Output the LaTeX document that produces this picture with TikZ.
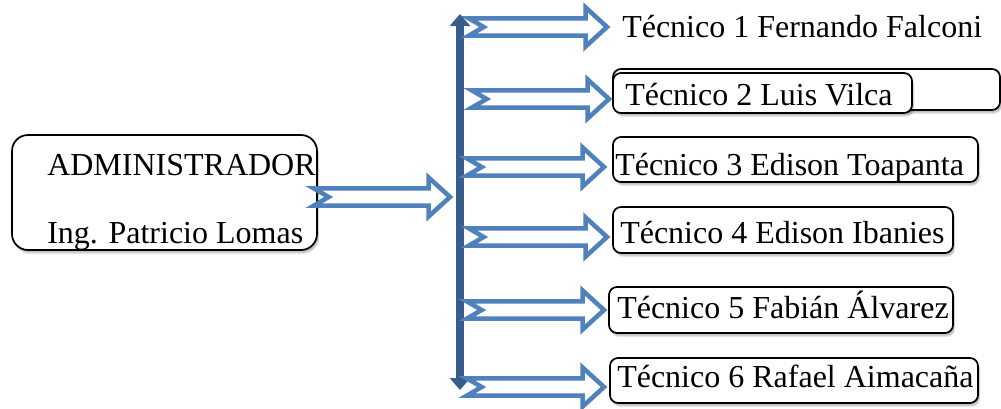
\documentclass[tikz,border=0pt]{standalone}
\usepackage{fontspec}
\setmainfont{Liberation Serif}
\usetikzlibrary{arrows.meta,shadows,calc}
\definecolor{arrowblue}{HTML}{4F81BD}
\definecolor{barblue}{HTML}{385D8A}

\tikzset{
  softshadow/.style={
    general shadow={shadow xshift=1.5pt, shadow yshift=-3pt, opacity=0.10, fill=black},
    general shadow={shadow xshift=1.2pt, shadow yshift=-2pt, opacity=0.15, fill=black}},
  boxbase/.style={draw=black, line width=1.3pt, fill=white, inner sep=0pt, softshadow},
  techbox/.style={boxbase, rounded corners=6pt},
  adminbox/.style={boxbase, rounded corners=12pt},
  techtext/.style={anchor=base west, inner sep=0pt, font=\fontsize{24}{28}\selectfont},
  blockarr/.style={draw=arrowblue, fill=white, line width=3.4pt, line join=miter, miter limit=10},
  mainbar/.style={draw=barblue, line width=6.5pt,
    {Triangle[width=15pt,length=9pt]}-{Triangle[width=15pt,length=9pt]}}
}

% notched block arrow from a tail coordinate to a tip coordinate (horizontal)
\newcommand{\notcharrow}[2]{%
  \path[blockarr] let \p1=(#1), \p2=(#2) in
    (\x1,\y1+6.4pt) -- (\x2-16pt,\y1+6.4pt) -- (\x2-16pt,\y1+14.6pt) -- (\x2,\y1)
    -- (\x2-16pt,\y1-14.6pt) -- (\x2-16pt,\y1-6.4pt) -- (\x1,\y1-6.4pt)
    -- (\x1+11pt,\y1) -- cycle;}

\begin{document}
\begin{tikzpicture}[x=0.75pt,y=-0.75pt]
\useasboundingbox (0,0) rectangle (1001,408);

% administrator box
\node[adminbox, minimum width=228.75pt, minimum height=86.25pt] (adm) at (164.5,192.5) {};
\node[techtext] (admA) at (47,175) {ADMINISTRADOR};
\node[techtext] (admB) at (47,243) {Ing. Patricio Lomas};

% technician boxes
\node[techbox, minimum width=290.25pt, minimum height=30.75pt] (b2a) at (806.5,89.5) {};
\node[techbox, minimum width=224.25pt, minimum height=30pt] (b2b) at (762.5,93) {};
\node[techbox, minimum width=273.75pt, minimum height=33.75pt] (b3) at (795.5,159.5) {};
\node[techbox, minimum width=255pt, minimum height=34.5pt] (b4) at (783,230) {};
\node[techbox, minimum width=258pt, minimum height=34.5pt] (b5) at (781,310) {};
\node[techbox, minimum width=276pt, minimum height=33.75pt] (b6) at (794,380.5) {};

% technician names
\node[techtext] (t1) at (622,37) {Técnico 1 Fernando Falconi};
\node[techtext] (t2) at (625,105) {Técnico 2 Luis Vilca};
\node[techtext] (t3) at (615,175) {Técnico 3 Edison Toapanta};
\node[techtext] (t4) at (620,243) {Técnico 4 Edison Ibanies};
\node[techtext] (t5) at (617,318) {Técnico 5 Fabián Álvarez};
\node[techtext] (t6) at (617,387) {Técnico 6 Rafael Aimacaña};

% vertical distribution bar
\coordinate (bartop) at (460,14);
\coordinate (barbot) at (460,390);
\draw[mainbar] (bartop) -- (barbot);

% arrow endpoints
\coordinate (s0) at (314,197);  \coordinate (e0) at (450,197);
\coordinate (s1) at (469,27);   \coordinate (e1) at (607,27);
\coordinate (s2) at (472,99);   \coordinate (e2) at (609,99);
\coordinate (s3) at (467,167);  \coordinate (e3) at (604,167);
\coordinate (s4) at (469,237);  \coordinate (e4) at (607,237);
\coordinate (s5) at (467,310);  \coordinate (e5) at (604,310);
\coordinate (s6) at (467,387);  \coordinate (e6) at (604,387);

\notcharrow{s0}{e0}
\notcharrow{s1}{e1}
\notcharrow{s2}{e2}
\notcharrow{s3}{e3}
\notcharrow{s4}{e4}
\notcharrow{s5}{e5}
\notcharrow{s6}{e6}
\end{tikzpicture}
\end{document}
